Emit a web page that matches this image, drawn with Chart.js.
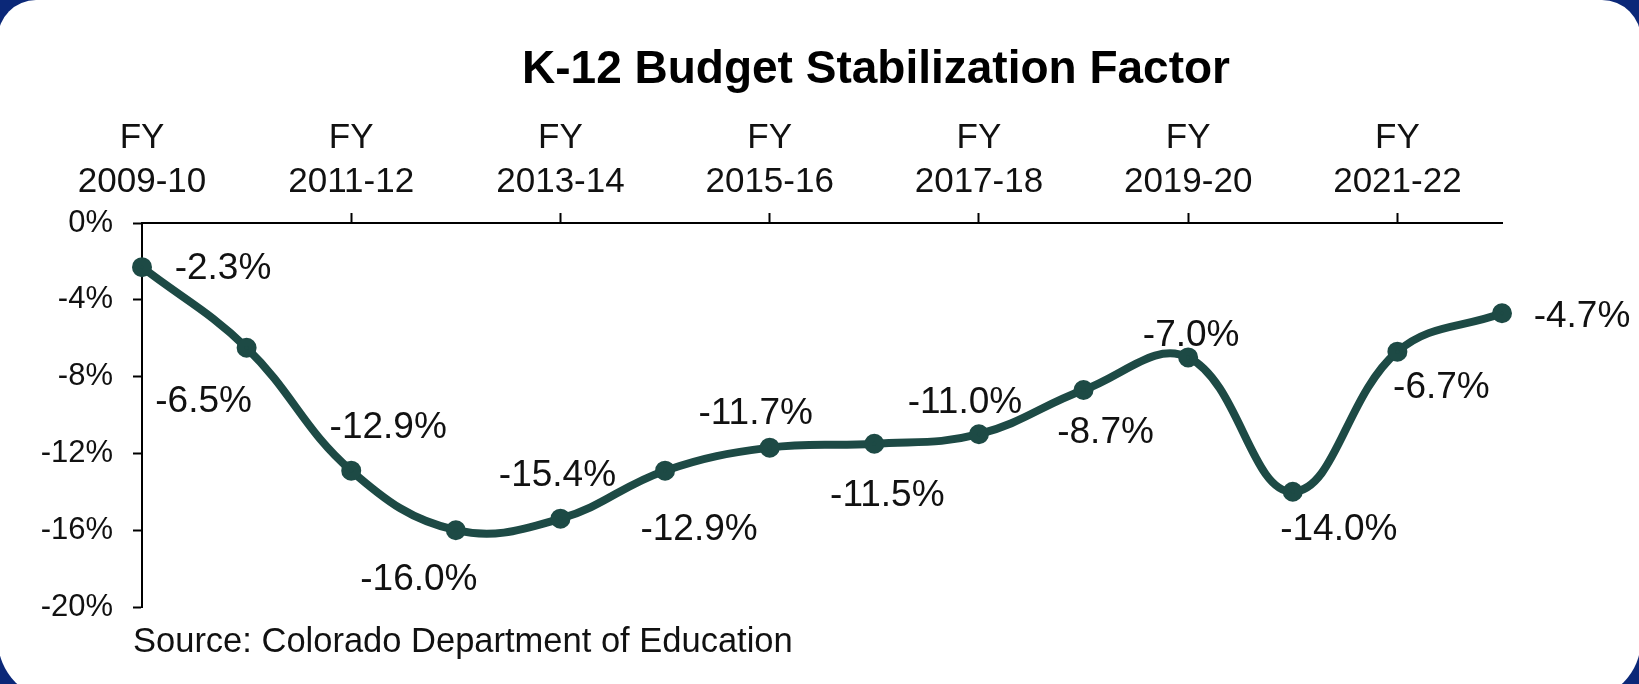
<!DOCTYPE html>
<html>
<head>
<meta charset="utf-8">
<script src="https://cdn.jsdelivr.net/npm/chart.js@4/dist/chart.umd.min.js"></script>
<style>
    html, body {
        margin: 0;
        padding: 0;
        width: 1639px;
        height: 684px;
        overflow: hidden;
        background: #0b2878;
    }
    .card {
        position: absolute;
        left: -2px;
        top: 0;
        width: 1643px;
        height: 700px;
        background: #ffffff;
        border-radius: 38px 39px 60px 60px;
    }
    #stab {
        position: absolute;
        left: 0;
        top: 0;
    }
</style>
</head>
<body>
<div class="card"></div>
<canvas id="stab" width="1639" height="684"></canvas>
<script>
const fiscalYears = [
    '2009-10', '2010-11', '2011-12', '2012-13', '2013-14', '2014-15', '2015-16',
    '2016-17', '2017-18', '2018-19', '2019-20', '2020-21', '2021-22', '2022-23'
];
const factorValues = [-2.3, -6.5, -12.9, -16.0, -15.4, -12.9, -11.7, -11.5, -11.0, -8.7, -7.0, -14.0, -6.7, -4.7];
const yTicks = [0, -4, -8, -12, -16, -20];
const chartTitle = 'K-12 Budget Stabilization Factor';
const sourceText = 'Source: Colorado Department of Education';

// where each value label sits relative to its point (px)
const labelDx = [81, -43, 37, -37, -3, 34, -14, 13, -14, 22, 3, 46, 44, 80];
const labelDy = [2, 54, -43, 50, -43, 59, -34, 52, -31, 43, -22, 38, 36, 4];

const FONT = '"Liberation Sans", Arial, sans-serif';
const LINE_COLOR = '#1d4a45';

// title, value labels and source line
const textLayer = {
    id: 'textLayer',
    afterDatasetsDraw(chart) {
        const ctx = chart.ctx;
        const meta = chart.getDatasetMeta(0);
        ctx.save();
        ctx.fillStyle = '#000000';
        ctx.textAlign = 'center';
        ctx.textBaseline = 'middle';
        ctx.font = 'bold 46px ' + FONT;
        ctx.fillText(chartTitle, 876, 70);

        ctx.fillStyle = '#111111';
        ctx.font = '37px ' + FONT;
        meta.data.forEach((pt, i) => {
            ctx.fillText(factorValues[i].toFixed(1) + '%', pt.x + labelDx[i], pt.y + labelDy[i]);
        });

        ctx.textAlign = 'left';
        ctx.font = '34.5px ' + FONT;
        ctx.fillText(sourceText, chart.chartArea.left - 9, 642);
        ctx.restore();
    }
};

const ctx = document.getElementById('stab').getContext('2d');

new Chart(ctx, {
    type: 'line',
    data: {
        labels: fiscalYears,
        datasets: [{
            data: factorValues,
            borderColor: LINE_COLOR,
            backgroundColor: LINE_COLOR,
            pointBackgroundColor: LINE_COLOR,
            pointBorderColor: LINE_COLOR,
            borderWidth: 8,
            pointRadius: 6,
            tension: 0.4,
            fill: false
        }]
    },
    options: {
        responsive: false,
        animation: false,
        layout: {
            padding: { left: 0, right: 137, top: 105, bottom: 77 }
        },
        plugins: {
            legend: { display: false },
            tooltip: { enabled: false },
            title: { display: false }
        },
        scales: {
            x: {
                position: 'top',
                offset: false,
                afterFit: function(scale) {
                    scale.height = 118;
                },
                border: { display: true, color: '#000000', width: 2 },
                grid: {
                    drawOnChartArea: false,
                    tickLength: 10,
                    tickWidth: 2,
                    tickColor: function(c) {
                        return (c.index % 2 === 0 && c.index > 0) ? '#000000' : 'rgba(0,0,0,0)';
                    }
                },
                ticks: {
                    autoSkip: false,
                    maxRotation: 0,
                    padding: 9,
                    color: '#111111',
                    font: { family: FONT, size: 35, lineHeight: 1.25 },
                    callback: function(value, index) {
                        return index % 2 === 0 ? ['FY', fiscalYears[index]] : '';
                    }
                }
            },
            y: {
                min: -20,
                max: 0,
                afterFit: function(scale) {
                    scale.width = 142;
                },
                afterBuildTicks: function(scale) {
                    scale.ticks = yTicks.map(v => ({ value: v }));
                },
                border: { display: true, color: '#000000', width: 2 },
                grid: {
                    drawOnChartArea: false,
                    tickLength: 9,
                    tickWidth: 2,
                    tickColor: '#000000'
                },
                ticks: {
                    padding: 20,
                    color: '#111111',
                    font: { family: FONT, size: 31 },
                    callback: function(value) {
                        return value + '%';
                    }
                }
            }
        }
    },
    plugins: [textLayer]
});
</script>
</body>
</html>
